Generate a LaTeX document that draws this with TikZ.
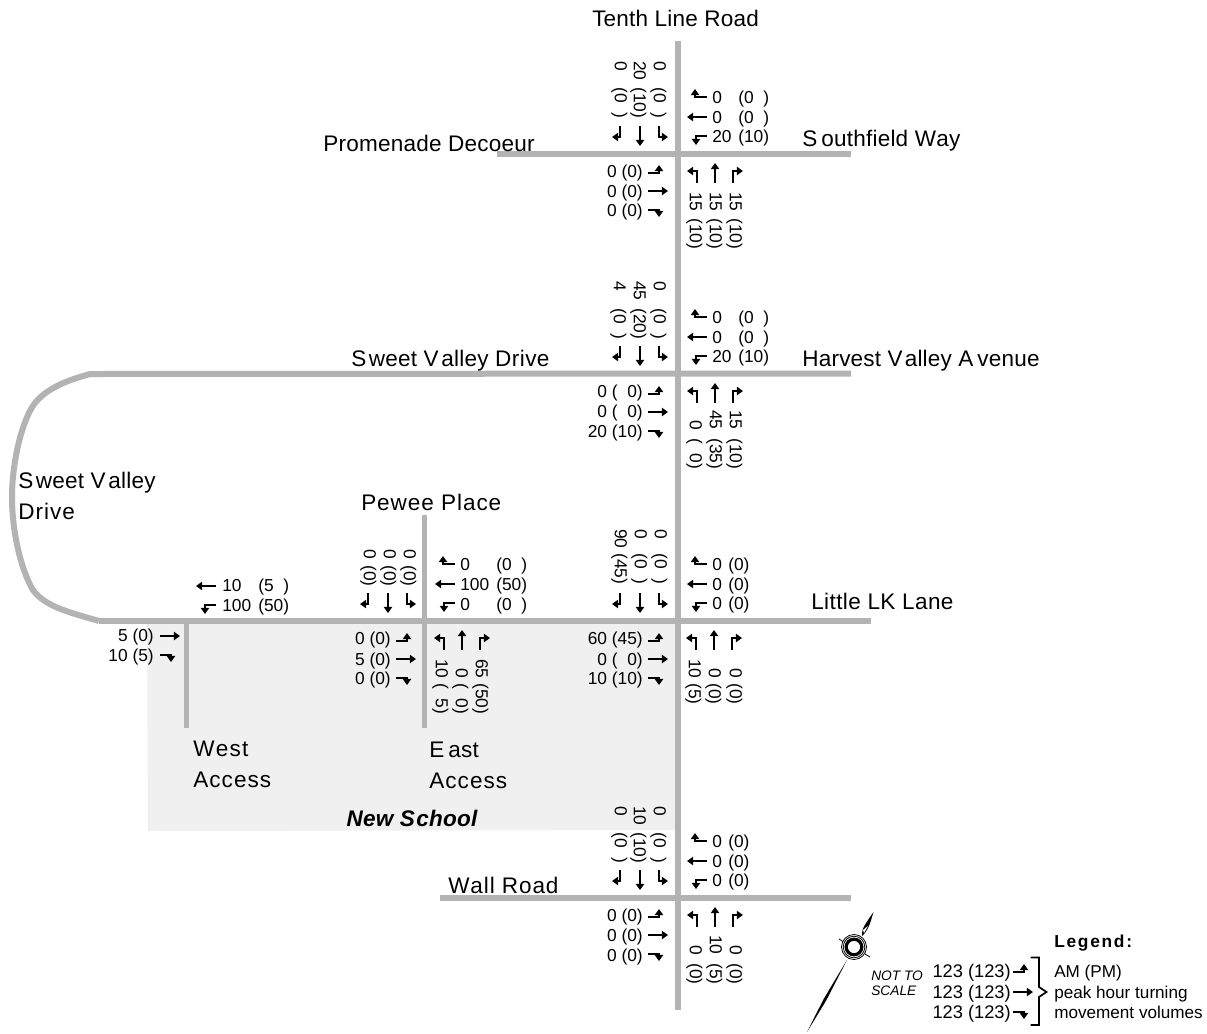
\documentclass[tikz,border=0pt]{standalone}
\usepackage{fontspec}
\setmainfont{Liberation Sans}
\newfontfamily\streetfont[LetterSpace=1,Kerning=Off]{Liberation Sans}
\usetikzlibrary{arrows.meta}
\definecolor{roadgray}{HTML}{B3B3B3}
\definecolor{sitegray}{HTML}{F0F0F0}
\tikzset{
  road/.style={draw=roadgray,line width=4.5pt,line cap=butt,line join=round},
  sideroad/.style={draw=roadgray,line width=3.6pt},
  turn/.style={draw=black,line width=1.9pt,line join=miter,-{Triangle[length=4.6pt,width=6.2pt]}},
  vol/.style={font=\fontsize{13}{15}\selectfont,inner sep=0pt,text height=9.3pt,text depth=0pt},
  vl/.style={vol,anchor=west},
  vr/.style={vol,anchor=east},
  vd/.style={vol,anchor=west,rotate=-90},
  street/.style={font=\streetfont\fontsize{16.9}{18}\selectfont,inner sep=0pt,anchor=west,text height=12.1pt,text depth=0pt},
  leg/.style={font=\fontsize{12.85}{15}\selectfont,inner sep=0pt,anchor=west,text height=9pt,text depth=0pt},
  scalenote/.style={font=\fontsize{10.3}{12}\selectfont\itshape,inner sep=0pt,anchor=west,text height=7.4pt,text depth=0pt},
  legnum/.style={font=\fontsize{13.7}{15}\selectfont,inner sep=0pt,anchor=east,text height=9.7pt,text depth=0pt},
}
\newcommand{\zg}{\phantom{0}}
\newcommand{\spc}[2]{{\addfontfeature{LetterSpace=#1}#2}}
% turning arrows
\newcommand{\EBL}[2]{\draw[turn] (#1,#2-18) -- (#1+11,#2-18) -- (#1+11,#2-26);}
\newcommand{\EBT}[2]{\draw[turn] (#1,#2) -- (#1+20,#2);}
\newcommand{\EBR}[2]{\draw[turn] (#1,#2+19) -- (#1+11,#2+19) -- (#1+11,#2+26);}
\newcommand{\EBgrp}[2]{\EBL{#1}{#2}\EBT{#1}{#2}\EBR{#1}{#2}}
\newcommand{\WBL}[2]{\draw[turn] (#1,#2-20) -- (#1-12,#2-20) -- (#1-12,#2-28);}
\newcommand{\WBT}[2]{\draw[turn] (#1,#2) -- (#1-20,#2);}
\newcommand{\WBR}[2]{\draw[turn] (#1,#2+19) -- (#1-11,#2+19) -- (#1-11,#2+28);}
\newcommand{\WBgrp}[2]{\WBL{#1}{#2}\WBT{#1}{#2}\WBR{#1}{#2}}
\newcommand{\SBgrp}[2]{%
  \draw[turn] (#1-20,#2) -- (#1-20,#2+11) -- (#1-28,#2+11);
  \draw[turn] (#1,#2) -- (#1,#2+20);
  \draw[turn] (#1+19,#2) -- (#1+19,#2+11) -- (#1+28,#2+11);}
\newcommand{\NBgrp}[2]{%
  \draw[turn] (#1-18,#2) -- (#1-18,#2-12) -- (#1-28,#2-12);
  \draw[turn] (#1,#2) -- (#1,#2-20);
  \draw[turn] (#1+18,#2) -- (#1+18,#2-12) -- (#1+28,#2-12);}
% volume text
\newcommand{\hv}[5]{\node[vl] at (#1,#2) {#3}; \node[vl] at (#4,#2) {#5};}
\newcommand{\rv}[5]{\node[vd] at (#1,#2) {#3}; \node[vd] at (#1,#4) {#5};}
\newcommand{\hr}[3]{\node[vr] at (#1,#2) {#3};}
\begin{document}
\begin{tikzpicture}[x=0.75pt,y=-0.75pt]
\useasboundingbox (0,0) rectangle (1207,1033);
% school site
\fill[sitegray] (147,622) -- (675,622) -- (675,830) -- (148,831) -- cycle;
% roads
\coordinate (mainN) at (677.5,41);
\coordinate (mainS) at (677.5,1010);
\draw[road] (mainN) -- (mainS);
\coordinate (tenA) at (497,153.5); \coordinate (tenB) at (851,153.5);
\draw[road] (tenA) -- (tenB);
\coordinate (wallA) at (440,897.5); \coordinate (wallB) at (851,897.5);
\draw[road] (wallA) -- (wallB);
\coordinate (svA) at (851,373.5); \coordinate (svB) at (90,374);
\coordinate (svC) at (35,403); \coordinate (svD) at (12,497);
\coordinate (svE) at (33,590); \coordinate (svF) at (99,621);
\draw[road] (svA) -- (svB) .. controls (68,380) and (47,388) .. (svC)
  .. controls (23,418) and (12,460) .. (svD)
  .. controls (12,534) and (22,572) .. (svE)
  .. controls (45,607) and (72,613) .. (svF);
\coordinate (lkA) at (99,620.5); \coordinate (lkB) at (871,620.5);
\draw[road] (lkA) -- (lkB);
\coordinate (westTop) at (186.5,620); \coordinate (westEnd) at (186.5,728);
\draw[sideroad] (westTop) -- (westEnd);
\coordinate (peweeTop) at (424.5,515); \coordinate (peweeEnd) at (424.5,728);
\draw[sideroad] (peweeTop) -- (peweeEnd);
% street labels
\node[street] (lTenth) at (592,18.5) {T\kern-1.8pt enth Line Road};
\node[street] (lProm) at (323,143.5) {Promenade Decoeur};
\node[street] (lSouth) at (802,138.5) {S\kern3pt outhfield Way};
\node[street] (lSV) at (351,358) {S\kern2pt weet V\kern2pt alley \spc{2}{Drive}};
\node[street] (lHarv) at (802,358) {Harvest V\kern1.5pt alley A\kern3pt venue};
\node[street] (lSVa) at (18,480.5) {S\kern2pt weet V\kern2pt alley};
\node[street] (lSVb) at (18,511.5) {\spc{4.5}{Drive}};
\node[street] (lPew) at (361,502) {\spc{4.2}{Pewee Place}};
\node[street] (lLK) at (811,601.5) {\spc{1.8}{Little LK Lane}};
\node[street] (lWa) at (193,748.5) {\spc{5.5}{West}};
\node[street] (lWb) at (193,779.5) {\spc{4.7}{Access}};
\node[street] (lEa) at (429,749.5) {E\kern3pt ast};
\node[street] (lEb) at (429,780.5) {\spc{4.7}{Access}};
\node[street] (lWall) at (448,885.5) {\spc{4}{Wall Road}};
\node[street,anchor=center,font=\streetfont\fontsize{16.9}{18}\selectfont\bfseries\itshape] (lNew) at (412,818) {New S\kern1pt chool};
% Tenth Line / Promenade - Southfield
\SBgrp{640}{126} \WBgrp{707}{117} \EBgrp{648}{191} \NBgrp{715}{183}
\rv{621}{61}{0}{87}{(0\zg)} \rv{640}{61}{20}{87}{(10)} \rv{660}{61}{0}{87}{(0\zg)}
\hv{712}{97}{0}{738}{(0\zg)} \hv{712}{117}{0}{738}{(0\zg)} \hv{712}{136}{20}{738}{(10)}
\hr{643}{171}{0 (0)} \hr{643}{191}{0 (0)} \hr{643}{210}{0 (0)}
\rv{696}{192}{15}{218}{(10)} \rv{716}{192}{15}{218}{(10)} \rv{736}{192}{15}{218}{(10)}
% Sweet Valley - Harvest Valley
\SBgrp{640}{346} \WBgrp{707}{337} \EBgrp{648}{412} \NBgrp{715}{403}
\rv{620}{281}{4}{308}{(0\zg)} \rv{640}{281}{45}{308}{(20)} \rv{660}{281}{0}{308}{(0\zg)}
\hv{712}{317}{0}{738}{(0\zg)} \hv{712}{337}{0}{738}{(0\zg)} \hv{712}{356}{20}{738}{(10)}
\hr{643}{391}{0 (\zg0)} \hr{643}{411}{0 (\zg0)} \hr{643}{431}{20 (10)}
\rv{696}{420}{0}{438}{(\zg0)} \rv{716}{410}{45}{438}{(35)} \rv{736}{410}{15}{438}{(10)}
% Little LK Lane
\SBgrp{640}{593} \WBgrp{707}{584} \EBgrp{648}{659} \NBgrp{714}{650}
\rv{621}{529}{90}{553}{(45)} \rv{641}{529}{0}{553}{(0\zg)} \rv{661}{529}{0}{553}{(0\zg)}
\hv{712}{564}{0}{728}{(0)} \hv{712}{584}{0}{728}{(0)} \hv{712}{603}{0}{728}{(0)}
\hr{643}{638}{60 (45)} \hr{643}{659}{0 (\zg0)} \hr{643}{678}{10 (10)}
\rv{695}{659}{10}{683}{(5)} \rv{715}{668}{0}{683}{(0)} \rv{736}{668}{0}{683}{(0)}
% Pewee Place / East Access
\SBgrp{388}{593} \WBgrp{455}{584} \EBgrp{396}{659} \NBgrp{462}{650}
\rv{370}{549}{0}{565}{(0)} \rv{390}{549}{0}{565}{(0)} \rv{410}{549}{0}{565}{(0)}
\hv{460}{564}{0}{496}{(0\zg)} \hv{460}{584}{100}{496}{(50)} \hv{460}{604}{0}{496}{(0\zg)}
\hr{391}{638}{0 (0)} \hr{391}{659}{5 (0)} \hr{391}{678}{0 (0)}
\rv{442}{659}{10}{683}{(\zg5)} \rv{462}{668}{0}{683}{(\zg0)} \rv{482}{659}{65}{683}{(50)}
% West Access
\WBT{216}{586} \WBR{216}{586}
\hv{222}{585}{10}{258}{(5\zg)} \hv{222}{605}{100}{258}{(50)}
\EBT{160}{636} \EBR{160}{636}
\hr{154}{635}{5 (0)} \hr{154}{655}{10 (5)}
% Wall Road
\SBgrp{640}{870} \WBgrp{707}{861} \EBgrp{648}{935} \NBgrp{715}{927}
\rv{621}{806}{0}{832}{(0\zg)} \rv{640}{806}{10}{832}{(10)} \rv{660}{806}{0}{832}{(0\zg)}
\hv{712}{841}{0}{728}{(0)} \hv{712}{861}{0}{728}{(0)} \hv{712}{880}{0}{728}{(0)}
\hr{643}{915}{0 (0)} \hr{643}{935}{0 (0)} \hr{643}{955}{0 (0)}
\rv{696}{945}{0}{963}{(0)} \rv{716}{935}{10}{963}{(5)} \rv{736}{945}{0}{963}{(0)}
% north arrow
\fill[black] (873.5,912) .. controls (871,920) and (869,930) .. (862,936)
  .. controls (861,929) and (866,923) .. cycle;
\fill[white] (868,926) -- (864,933) -- (863,930) -- cycle;
\draw[line width=0.6pt] (839,939) -- (843,941.5);
\draw[line width=0.6pt] (865,954) -- (870,957);
\draw[line width=0.6pt] (854,947) circle (12.5);
\draw[line width=0.6pt] (854,947) circle (10.8);
\draw[line width=2.4pt] (854,947) circle (7.8);
\fill[black] (847,960) -- (826.3,1000.3) -- (807,1032) -- (823.7,998.9) -- cycle;
% legend
\node[street,font=\fontsize{13}{15}\selectfont\bfseries,text height=9.3pt] (lgT) at (1054,941) {L\kern1.3pt e\kern1.3pt g\kern1.3pt e\kern1.3pt n\kern1.3pt d\kern1.3pt :};
\node[scalenote] (ns1) at (871,976) {NOT TO};
\node[scalenote] (ns2) at (871,991) {SCALE};
\node[legnum] (ln1) at (1011,971) {123 (123)};
\node[legnum] (ln2) at (1011,992) {123 (123)};
\node[legnum] (ln3) at (1011,1012) {123 (123)};
\EBL{1013}{990} \EBT{1013}{992} \EBR{1013}{993}
\draw[line width=1.3pt,line join=miter] (1030.5,957.5) -- (1039,957.5) -- (1039,987) -- (1046.5,992) -- (1039,997) -- (1039,1025) -- (1030.5,1025);
\node[leg] (lg1) at (1054,971) {AM (PM)};
\node[leg] (lg2) at (1054,992) {peak hour turning};
\node[leg] (lg3) at (1054,1012) {movement volumes};
\end{tikzpicture}
\end{document}
